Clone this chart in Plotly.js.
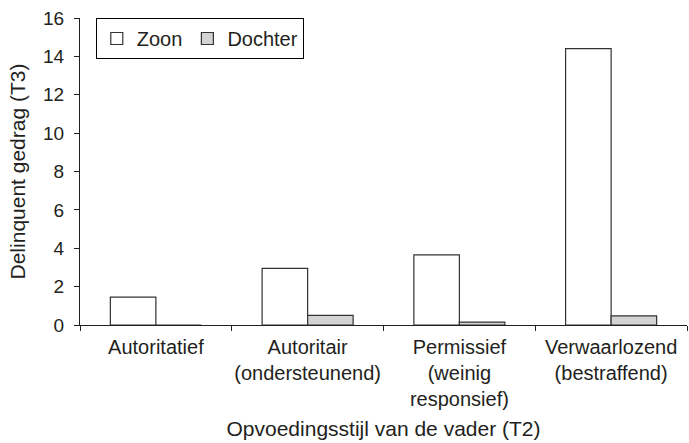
<!DOCTYPE html>
<html>
<head>
<meta charset="utf-8">
<script src="https://cdn.plot.ly/plotly-3.0.1.min.js"></script>
<style>html,body{margin:0;padding:0;background:#fff;}#chart{width:689px;height:443px;}</style>
</head>
<body>
<div id="chart"></div>
<script>
const categories = ["Autoritatief", "Autoritair<br>(ondersteunend)", "Permissief<br>(weinig<br>responsief)", "Verwaarlozend<br>(bestraffend)"];
const zoonValues = [1.45, 2.95, 3.65, 14.4];
const dochterValues = [0, 0.5, 0.15, 0.48];
const seriesNames = ["Zoon", "Dochter"];
const yTickValues = [0, 2, 4, 6, 8, 10, 12, 14, 16];
const xTitle = "Opvoedingsstijl van de vader (T2)";
const yTitle = "Delinquent gedrag (T3)";

const fontFamily = "Liberation Sans, Arial, sans-serif";
const ink = "#231f20";

const traces = [
  {type: "bar", name: seriesNames[0], x: categories, y: zoonValues,
   marker: {color: "#ffffff", line: {color: "#333333", width: 1.2}}},
  {type: "bar", name: seriesNames[1], x: categories, y: dochterValues,
   marker: {color: "#d3d3d3", line: {color: "#333333", width: 1.2}}}
];

const layout = {
  width: 689, height: 443,
  margin: {l: 80, r: 2, t: 18, b: 118, autoexpand: false},
  paper_bgcolor: "#ffffff", plot_bgcolor: "#ffffff",
  font: {family: fontFamily, size: 19, color: ink},
  barmode: "group", bargap: 0.4, bargroupgap: 0,
  showlegend: true,
  legend: {x: 0.026, y: 1, xanchor: "left", yanchor: "top", orientation: "h",
           bordercolor: "#000000", borderwidth: 1, bgcolor: "#ffffff",
           font: {family: fontFamily, size: 20, color: ink}, traceorder: "normal"},
  xaxis: {type: "category", showline: true, linecolor: ink, linewidth: 1,
          ticks: "outside", ticklen: 5, tickcolor: ink, tickson: "boundaries",
          tickangle: 0, automargin: false, ticklabelstandoff: 4,
          showgrid: false, zeroline: false,
          tickfont: {family: fontFamily, size: 20, color: ink},
          title: {text: xTitle, font: {family: fontFamily, size: 21, color: ink}, standoff: 12}},
  yaxis: {range: [0, 16], tickvals: yTickValues, showline: true, linecolor: ink, linewidth: 1,
          ticks: "outside", ticklen: 5, tickcolor: ink, showgrid: false, zeroline: false,
          ticklabelstandoff: 6, automargin: false,
          tickfont: {family: fontFamily, size: 19, color: ink},
          title: {text: yTitle, font: {family: fontFamily, size: 21, color: ink}, standoff: 11}}
};

Plotly.newPlot("chart", traces, layout, {displayModeBar: false, staticPlot: true});
</script>
</body>
</html>
